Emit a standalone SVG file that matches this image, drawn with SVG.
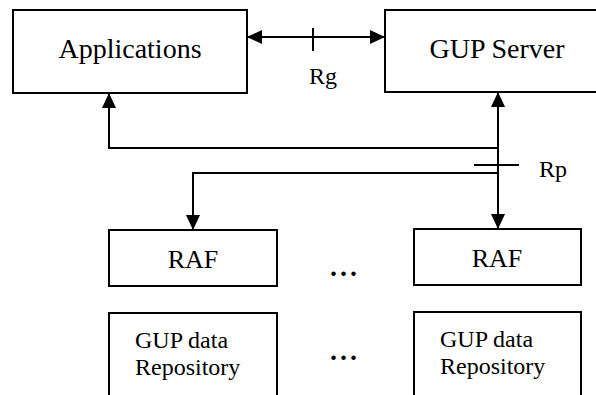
<svg xmlns="http://www.w3.org/2000/svg" width="596" height="395" viewBox="0 0 596 395">
<style>
.box{fill:#fff;stroke:#000;stroke-width:2}
.ln{fill:none;stroke:#000;stroke-width:2}
.t{font-family:"Liberation Serif","Times New Roman",serif;fill:#000}
.big{font-size:28px;text-anchor:middle}
.raf{font-size:26px;text-anchor:middle}
.rep{font-size:24px}
.lbl{font-size:24px}
.dots{font-size:28px;font-weight:bold;text-anchor:middle;letter-spacing:3px}
</style>
<defs>
<marker id="ah" markerUnits="userSpaceOnUse" markerWidth="15" markerHeight="14" refX="15" refY="7" orient="auto-start-reverse">
<path d="M0,0 L15,7 L0,14 z" fill="#000"/>
</marker>
</defs>
<g id="applications">
<rect class="box" x="13" y="10" width="234" height="83"/>
<text class="t big" x="130" y="58">Applications</text>
</g>
<g id="gup-server">
<rect class="box" x="385" y="10" width="230" height="82"/>
<text class="t big" x="497" y="58">GUP Server</text>
</g>
<g id="raf-1">
<rect class="box" x="109" y="230" width="168" height="56"/>
<text class="t raf" x="193" y="268">RAF</text>
</g>
<g id="raf-2">
<rect class="box" x="414" y="229" width="167" height="56"/>
<text class="t raf" x="497" y="267">RAF</text>
</g>
<g id="repo-1">
<rect class="box" x="109" y="313" width="168" height="100"/>
<text class="t rep" x="135" y="348">GUP data</text>
<text class="t rep" x="135" y="375">Repository</text>
</g>
<g id="repo-2">
<rect class="box" x="414" y="312" width="167" height="100"/>
<text class="t rep" x="440" y="347">GUP data</text>
<text class="t rep" x="440" y="374">Repository</text>
</g>
<g id="dots">
<text class="t dots" x="345" y="276">...</text>
<text class="t dots" x="345" y="360">...</text>
</g>
<g id="connectors">
<path class="ln" d="M247,37 H385" marker-start="url(#ah)" marker-end="url(#ah)"/>
<path class="ln" d="M313,28 V51"/>
<path class="ln" d="M498,229 V92" marker-start="url(#ah)" marker-end="url(#ah)"/>
<path class="ln" d="M498,148 H109 V93" marker-end="url(#ah)"/>
<path class="ln" d="M498,173 H193 V230" marker-end="url(#ah)"/>
<path class="ln" d="M474,165 H519"/>
<text class="t lbl" x="309" y="84">Rg</text>
<text class="t lbl" x="539" y="177">Rp</text>
</g>
</svg>
